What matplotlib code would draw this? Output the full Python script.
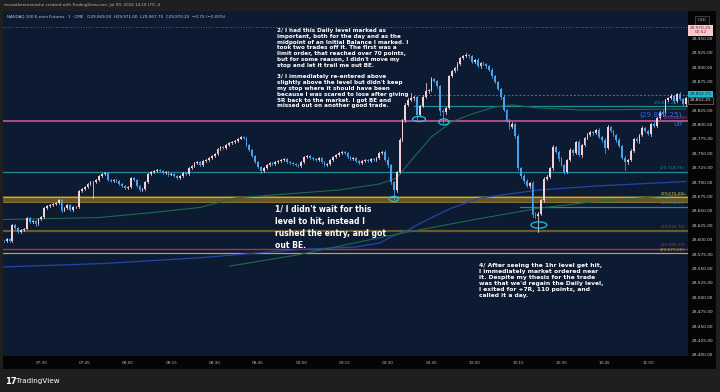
import matplotlib
matplotlib.use("Agg")
import matplotlib.pyplot as plt
from matplotlib.patches import Rectangle, Ellipse

# 1-minute candles, NQ, starting 07:17
first_minute = "07:17"
open0 = 29599.5
closes = [
    29598.75, 29602.25, 29598.75, 29626.5, 29621.25, 29614.5, 29618.0, 29619.75, 29638.75, 29631.75,
    29633.5, 29628.25, 29637.0, 29640.5, 29656.0, 29659.5, 29661.25, 29663.0, 29664.75, 29670.0,
    29651.0, 29656.0, 29661.25, 29652.5, 29657.75, 29657.75, 29685.5, 29689.0, 29692.5, 29697.75,
    29701.25, 29701.25, 29704.75, 29711.75, 29715.0, 29716.75, 29704.75, 29703.0, 29704.75, 29703.0,
    29697.75, 29694.25, 29690.75, 29692.5, 29708.25, 29704.75, 29694.25, 29687.25, 29689.0, 29701.25,
    29715.0, 29718.5, 29720.25, 29722.0, 29720.25, 29716.75, 29718.5, 29713.5, 29715.0, 29711.75,
    29708.25, 29711.75, 29716.75, 29715.0, 29725.5, 29729.0, 29734.25, 29736.0, 29730.75, 29737.75,
    29739.5, 29743.0, 29746.25, 29749.75, 29758.5, 29762.0, 29760.25, 29765.5, 29769.0, 29770.75,
    29772.5, 29776.0, 29779.25, 29777.5, 29765.5, 29756.75, 29746.25, 29736.0, 29727.25, 29720.25,
    29725.5, 29730.75, 29734.25, 29732.5, 29736.0, 29737.75, 29739.5, 29741.25, 29736.0, 29734.25,
    29732.5, 29730.75, 29729.0, 29736.0, 29744.75, 29746.25, 29743.0, 29741.25, 29739.5, 29743.0,
    29736.0, 29730.75, 29732.5, 29739.5, 29744.75, 29748.0, 29751.5, 29753.25, 29751.5, 29744.75,
    29741.25, 29743.0, 29737.75, 29734.25, 29737.75, 29739.5, 29737.75, 29741.25, 29739.5, 29743.0,
    29751.5, 29753.25, 29739.5, 29730.75, 29701.25, 29687.25, 29718.5, 29774.25, 29809.0, 29835.0,
    29843.5, 29847.0, 29848.75, 29817.5, 29833.25, 29848.75, 29859.25, 29861.0, 29880.0, 29876.5,
    29868.0, 29824.5, 29822.75, 29829.75, 29885.25, 29894.0, 29899.25, 29906.0, 29916.5, 29920.0,
    29921.75, 29920.0, 29909.5, 29913.0, 29902.5, 29907.75, 29906.0, 29902.5, 29895.75, 29885.25,
    29874.75, 29862.75, 29848.75, 29826.25, 29807.25, 29796.75, 29802.0, 29781.0, 29725.5, 29711.75,
    29703.0, 29694.25, 29699.5, 29644.0, 29642.25, 29645.75, 29670.0, 29706.5, 29710.0, 29725.5,
    29762.0, 29753.25, 29741.25, 29730.75, 29718.5, 29739.5, 29756.75, 29751.5, 29770.75, 29748.0,
    29765.5, 29777.5, 29782.75, 29788.0, 29786.25, 29791.5, 29779.25, 29774.25, 29760.25, 29796.75,
    29789.75, 29782.75, 29774.25, 29763.75, 29743.0, 29736.0, 29739.5, 29755.0, 29776.0, 29772.5,
    29782.75, 29795.0, 29789.75, 29784.5, 29802.0, 29798.5, 29812.25, 29822.75, 29819.25, 29843.5,
    29847.0, 29850.5, 29841.75, 29854.0, 29845.25, 29836.75, 29847.0,
]
# wick lengths in points above / below the body
up_wick = [
    1.5, 2, 1, 2, 1, 1.5, 2, 1, 2, 1, 1.5, 1, 2, 1, 2, 1.5, 1, 2, 1, 1.5,
    1, 2, 1.5, 1, 2, 1, 2, 1.5, 1, 2, 1, 1.5, 2, 1, 1.5, 2, 1, 1, 1.5, 2,
    1, 1.5, 2, 1, 2, 1, 1.5, 1, 2, 1.5, 1, 2, 1, 1.5, 2, 1, 1.5, 2, 1, 1,
    1.5, 2, 1, 1.5, 2, 1, 2, 1.5, 1, 2, 1, 1.5, 2, 1, 2, 1.5, 1, 2, 1.5, 1,
    2, 1, 2.5, 1.5, 1, 2, 1, 1.5, 2, 1, 1.5, 2, 1, 1.5, 2, 1, 2, 1.5, 1, 2,
    1, 1.5, 2, 1, 2, 1.5, 1, 2, 1, 1.5, 2, 1, 1.5, 1, 2, 1, 1.5, 2, 1, 1.5,
    2, 1, 1.5, 2, 1, 1.5, 2, 1, 1.5, 2, 1, 2.5, 3, 5, 2, 1.5, 2, 3, 2, 2.5,
    3, 8.75, 2, 2, 2.5, 3, 14, 2, 3, 2, 2.5, 2, 3, 2, 2, 2.5, 2, 3, 2.5, 2,
    3, 2, 2.5, 2, 3, 2, 2.5, 2, 2, 3, 2, 2.5, 2, 3, 2, 2.5, 3, 2, 3, 2,
    2.5, 3, 2, 3, 5, 2.5, 2, 3, 2.5, 2, 3, 2.5, 2, 3, 2, 2.5, 3, 2, 2.5, 3,
    2, 2.5, 3, 2, 2.5, 2, 3, 2, 2.5, 3, 2, 2.5, 2, 3, 2, 2.5, 2, 3, 2, 2.5,
    2, 3, 2, 2.5, 2, 3, 2, 2.5, 3, 2, 2.5, 3, 2, 2.5, 3, 2, 2.5,
]
dn_wick = [
    1, 1.5, 2, 1, 1.5, 2, 1, 1.5, 1, 2, 1, 4, 1.5, 1, 2, 1, 1.5, 1, 2, 1,
    2, 1, 1.5, 2, 1, 1.5, 1, 2, 1, 1.5, 1, 28, 1.5, 1, 2, 1, 1.5, 2, 1, 1.5,
    2, 1, 1.5, 2, 1, 1.5, 2, 1, 1.5, 1, 2, 1, 1.5, 1, 2, 1, 1.5, 2, 1, 1.5,
    1, 2, 1.5, 1, 2, 1, 1.5, 2, 1, 1.5, 1, 2, 1, 1.5, 2, 1, 1.5, 1, 2, 1,
    1.5, 2, 1, 1.5, 2, 1, 2, 1.5, 2, 3, 1.5, 2, 1, 1.5, 2, 1, 1.5, 1, 2, 1.5,
    2, 1, 1.5, 2, 1, 1.5, 2, 1, 1.5, 1, 2, 1.5, 1, 2, 1, 1.5, 2, 1, 1.5, 2,
    1, 1.5, 2, 1, 1.5, 2, 1, 2, 1.5, 1, 2, 1.5, 2, 3, 4, 15.5, 3, 2, 2.5, 3,
    2, 2.5, 3, 8.5, 2, 2.5, 2, 3, 2, 2.5, 3, 7, 19, 3, 2, 2.5, 2, 3, 2, 2.5,
    2, 3, 2, 2.5, 2, 3, 2, 2.5, 2, 3, 2.5, 2, 3, 2, 2.5, 3, 2, 3, 4, 3,
    3, 2.5, 3, 4, 3, 28, 2.5, 3, 2, 2.5, 3, 2, 3, 2.5, 3, 2, 2.5, 3, 2, 2.5,
    3, 2, 2.5, 2, 3, 2, 2.5, 3, 8.75, 2, 2.5, 2, 3, 2, 2.5, 14, 3, 2, 2.5, 2,
    3, 2, 2.5, 2, 3, 2, 2.5, 2, 3, 2, 2.5, 2, 3, 2, 2.5, 2, 3,
]
assert len(closes) == len(up_wick) == len(dn_wick), (len(closes), len(up_wick), len(dn_wick))

# indicator lines: (minute index, price)
vwap_pts = [(0, 29553.75), (35, 29559.75), (68, 29569.75), (102, 29584.0), (122, 29588.5),
            (130, 29595.25), (134, 29605.75), (140, 29618.0), (145, 29631.75), (155, 29656.0),
            (165, 29673.5), (175, 29680.5), (185, 29687.25), (205, 29694.25), (236, 29702.0)]
ma_pts = [(0, 29636.0), (33, 29639.5), (50, 29647.5), (68, 29657.0), (80, 29673.5),
          (102, 29682.0), (116, 29687.25), (130, 29697.75), (136, 29708.25), (142, 29744.5),
          (148, 29779.5), (155, 29805.5), (162, 29819.25), (170, 29831.5), (176, 29835.0),
          (185, 29829.75), (200, 29826.25), (236, 29828.0)]
ma2_pts = [(78, 29555.0), (102, 29575.0), (136, 29610.75), (164, 29637.0), (185, 29655.5),
           (205, 29667.5), (236, 29679.5)]

# horizontal levels: price, colour, width, label, first index
levels = [
    (29718.75, "#1b8e98", 0.9, "(29,718.75)", 0),
    (29658.00, "#1b8e98", 0.9, "(29,658.00)", 179),
    (29616.75, "#6b5a28", 1.6, "(29,616.75)", 0),
    (29585.00, "#b02f4c", 1.0, "(29,585.00)", 0),
    (29577.25, "#b9a842", 0.9, "(29,577.25)", 0),
]
gold_level = 29675.00
daily_level = 29807.25
teal_upper = 29833.25
dotted_level = 29852.75
last_price = 29970.25

circles = [(135, 29671.75, 3.2, 9), (143.7, 29810.5, 4.5, 9), (152.3, 29805.5, 3.5, 10.5),
           (185.2, 29626.5, 5.5, 11)]

time_labels = ["07:30", "07:45", "08:00", "08:15", "08:30", "08:45", "09:00", "09:15",
               "09:30", "09:45", "10:00", "10:15", "10:30", "10:45", "11:00"]
price_ticks = [v for v in range(29400, 30000, 25) if v not in (29975, 29850)]

note_1 = "1/ I didn't wait for this\nlevel to hit, instead I\nrushed the entry, and got\nout BE."
note_2 = ("2/ I had this Daily level marked as\nimportant, both for the day and as the\n"
          "midpoint of an Initial Balance I marked. I\ntook two trades off it. The first was a\n"
          "limit order, that reached over 70 points,\nbut for some reason, I didn't move my\n"
          "stop and let it trail me out BE.\n\n3/ I immediately re-entered above\n"
          "slightly above the level but didn't keep\nmy stop where it should have been\n"
          "because I was scared to lose after giving\n5R back to the market. I got BE and\n"
          "missed out on another good trade.")
note_4 = ("4/ After seeing the 1hr level get hit,\nI immediately market ordered near\n"
          "it. Despite my thesis for the trade\nwas that we'd regain the Daily level,\n"
          "I exited for +7R, 110 points, and\ncalled it a day.")

W, H = 720, 392
BG = "#0c1a32"
UP = "#f4cfd4"
DOWN = "#4aa3ef"


def box(x0, y0, x1, y1):
    return [x0 / W, 1 - y1 / H, (x1 - x0) / W, (y1 - y0) / H]


fig = plt.figure(figsize=(W / 100, H / 100), dpi=100, facecolor="#1f1f1f")
ax = fig.add_axes(box(3, 11, 688, 356))
ax.set_facecolor(BG)
XLIM = (-0.25, 236.8)
YLIM = (29399.1, 29998.1)
ax.set_xlim(*XLIM)
ax.set_ylim(*YLIM)
ax.set_xticks([])
ax.set_yticks([])
for s in ax.spines.values():
    s.set_visible(False)

# levels
for price, col, lw, lab, start in levels:
    ax.plot([start - 0.3, XLIM[1]], [price, price], color=col, lw=lw, zorder=2)
    ax.text(235.8, price + 2.5, lab, color=col, fontsize=3.1, ha="right", va="bottom", zorder=6)
ax.axhspan(gold_level - 9, gold_level + 1.5, color="#6e5d25", alpha=0.9, lw=0, zorder=2)
ax.axhline(gold_level, color="#c9a83e", lw=0.8, zorder=2)
ax.axhline(gold_level - 8, color="#9c8434", lw=0.6, zorder=2)
ax.text(235.8, gold_level + 2.5, "(29,675.00)", color="#e8c84a", fontsize=3.1, ha="right",
        va="bottom", zorder=6)
ax.axhline(daily_level, color="#a8508e", lw=1.4, zorder=2)
ax.plot([142, XLIM[1]], [teal_upper, teal_upper], color="#1b8e98", lw=0.9, zorder=2)
ax.plot([142, XLIM[1]], [dotted_level, dotted_level], color="#1b8e98", lw=0.7, ls=(0, (2, 2)), zorder=2)
ax.axhline(last_price, color="#6f7f9c", lw=0.6, ls=(0, (1, 2)), zorder=2)
ax.text(233.5, teal_upper + 2.5, "(29,833.25)", color="#1b8e98", fontsize=3.1, ha="right",
        va="bottom", zorder=3)
ax.text(236.6, daily_level + 1.0, "(29,808.00)", color="#c0405a", fontsize=3.0, ha="right",
        va="bottom", zorder=5)
ax.text(234.6, daily_level + 4.5, "(29,807.25)", color="#3567e0", fontsize=5.2, ha="right",
        va="bottom", zorder=6)
ax.text(235.0, daily_level - 1, "0σ", color="#3567e0", fontsize=5.0, ha="right", va="top", zorder=6)

# indicators
ax.plot(*zip(*vwap_pts), color="#2545a8", lw=0.9, zorder=3)
ax.plot(*zip(*ma_pts), color="#1e6a4c", lw=0.8, zorder=3)
ax.plot(*zip(*ma2_pts), color="#1e6a4c", lw=0.8, zorder=3)

# candles
o = open0
for i, c in enumerate(closes):
    col = UP if c >= o else DOWN
    lo_b, hi_b = min(o, c), max(o, c)
    ax.plot([i, i], [lo_b - dn_wick[i], hi_b + up_wick[i]], color=col, lw=0.55, zorder=4)
    ax.add_patch(Rectangle((i - 0.31, lo_b), 0.62, max(hi_b - lo_b, 0.6), color=col, lw=0, zorder=4))
    o = c

for cx, cy, w, h in circles:
    ax.add_patch(Ellipse((cx, cy), w, h, fill=False, ec="#1ec3dc", lw=0.9, zorder=7))

# notes
fig.text(277 / W, 1 - 28 / H, note_2, color="white", fontsize=4.1, fontweight="bold",
         va="top", ha="left", linespacing=1.2)
fig.text(275 / W, 1 - 205 / H, note_1, color="white", fontsize=5.5, fontweight="bold",
         va="top", ha="left", linespacing=1.42)
fig.text(479 / W, 1 - 263 / H, note_4, color="white", fontsize=4.3, fontweight="bold",
         va="top", ha="left", linespacing=1.27)

# header
fig.text(4 / W, 1 - 5 / H, "moradbenmenashe created with TradingView.com, Jul 09, 2026 14:18 UTC-4",
         color="#b2b5be", fontsize=3.0, va="center")
fig.text(7 / W, 1 - 16 / H,
         "NASDAQ 100 E-mini Futures · 1 · CME   O29,969.00  H29,971.00  L29,967.75  C29,970.25  −0.75 (−0.00%)",
         color="#c8cad0", fontsize=3.0, va="center")

# price axis
pax = fig.add_axes(box(688, 11, 716, 369))
pax.set_facecolor("#050505")
pax.set_xlim(0, 1)
pax.set_ylim(YLIM[0] - 13 * 1.7361, YLIM[1])
pax.set_xticks([])
pax.set_yticks([])
for s in pax.spines.values():
    s.set_visible(False)
for v in price_ticks:
    pax.text(0.14, v, f"{v:,.2f}", color="#d1d4dc", fontsize=3.1, va="center", ha="left")
pax.text(0.5, YLIM[1] - 9.5 * 1.7361, "USD", color="#b2b5be", fontsize=3.0, ha="center", va="center",
         bbox=dict(boxstyle="square,pad=0.6", fc="#0a0a0a", ec="#555555", lw=0.5))
pax.text(0.45, last_price - 6, f"{last_price:,.2f}\n00:52", color="#7a1f2b", fontsize=3.1,
         ha="center", va="center", linespacing=1.0,
         bbox=dict(boxstyle="square,pad=0.35", fc="#f7c9cd", ec="none"))
pax.text(0.45, dotted_level + 1, f"{dotted_level:,.2f}", color="#0a2a33", fontsize=3.1,
         ha="center", va="center", bbox=dict(boxstyle="square,pad=0.3", fc="#22b6cc", ec="none"))
pax.text(0.45, dotted_level - 10, f"{dotted_level - 0.5:,.2f}", color="#e8e8e8", fontsize=3.1,
         ha="center", va="center", bbox=dict(boxstyle="square,pad=0.3", fc="#0a0a0a", ec="#8a6a6a", lw=0.5))

# time axis
tax = fig.add_axes(box(3, 356, 688, 369))
tax.set_facecolor("#050505")
tax.set_xlim(*XLIM)
tax.set_ylim(0, 1)
tax.set_xticks([])
tax.set_yticks([])
for s in tax.spines.values():
    s.set_visible(False)
h0, m0 = map(int, first_minute.split(":"))
for lab in time_labels:
    h, m = map(int, lab.split(":"))
    tax.text((h * 60 + m) - (h0 * 60 + m0), 0.5, lab, color="#b2b5be", fontsize=3.0,
             ha="center", va="center")

# footer logo
fig.text(5 / W, 1 - 381 / H, "17", color="white", fontsize=6.0, fontweight="heavy", va="center")
fig.text(16 / W, 1 - 381 / H, "TradingView", color="white", fontsize=5.2, va="center")

fig.savefig("out.png", dpi=100, facecolor=fig.get_facecolor())
